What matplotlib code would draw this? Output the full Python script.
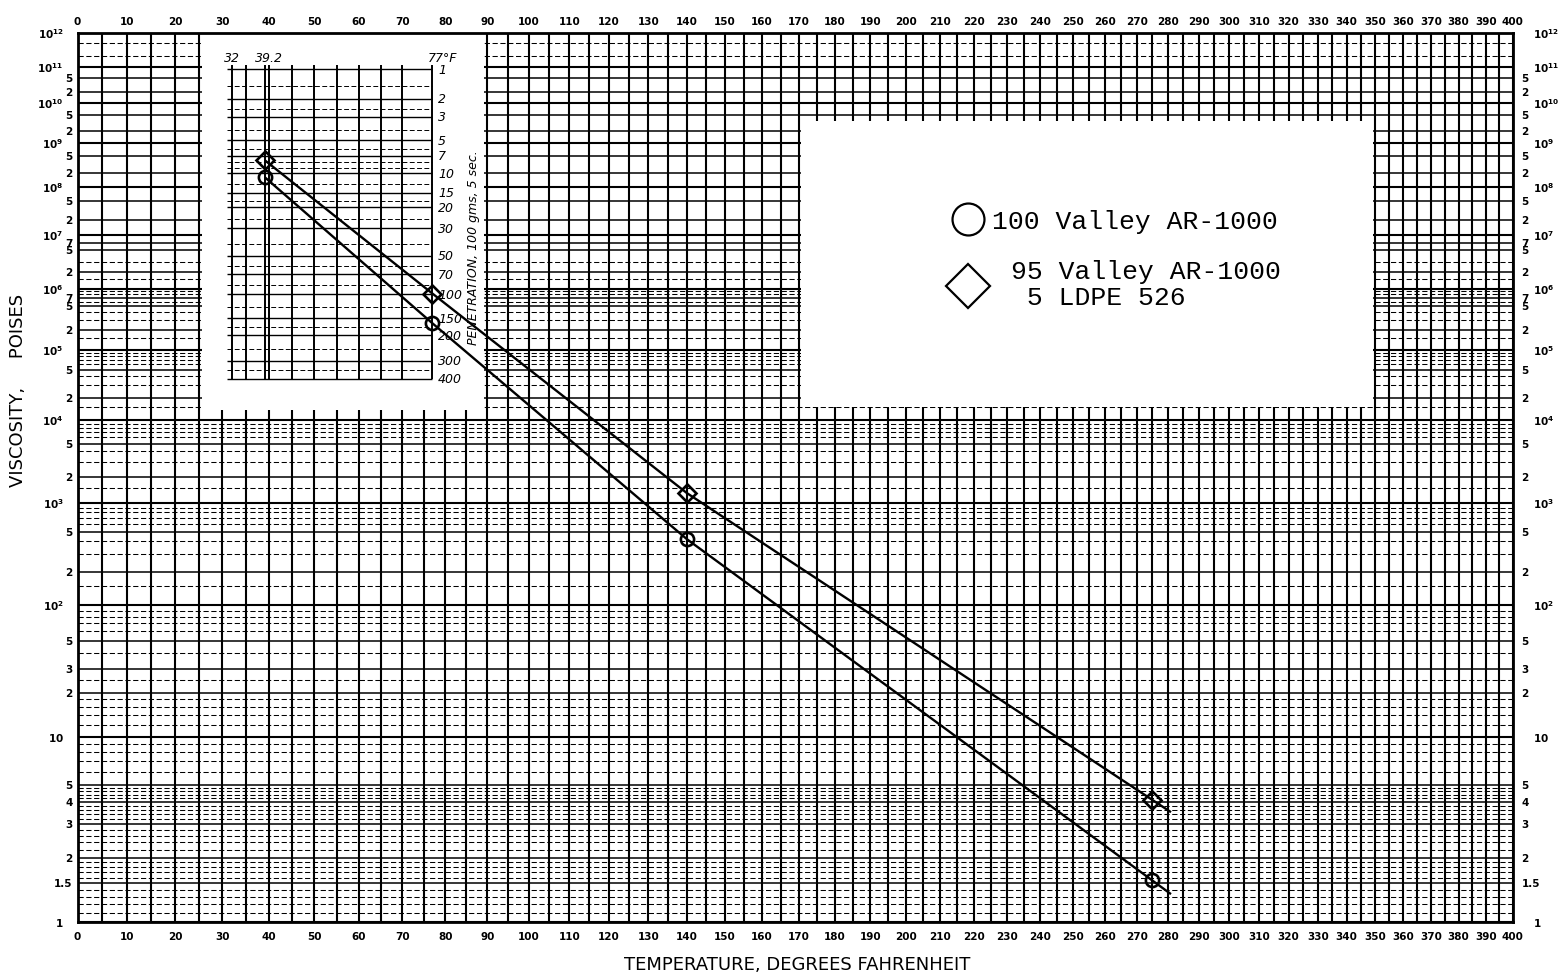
import numpy as np
import matplotlib
matplotlib.use("Agg")
import matplotlib.pyplot as plt
from matplotlib.patches import Rectangle
from matplotlib.transforms import blended_transform_factory
from matplotlib.ticker import NullLocator

# ---------------- measured data ----------------
test_temps_f = [39.2, 77, 140, 275]
visc_neat = [1.6e8, 2.6e5, 420, 1.55]      # 100 Valley AR-1000
visc_blend = [3.9e8, 8.2e5, 1300, 4.1]     # 95 Valley AR-1000 + 5 LDPE 526
line_end_temp = 281

legend_neat = "100 Valley AR-1000"
legend_blend = "95 Valley AR-1000\n 5 LDPE 526"

# ---------------- chart furniture ----------------
temp_labels = list(range(0, 401, 10))
temp_grid = list(range(0, 401, 5))

visc_side_labels = {
    5e10: "5", 2e10: "2", 5e9: "5", 2e9: "2", 5e8: "5", 2e8: "2",
    5e7: "5", 2e7: "2", 7e6: "7", 5e6: "5", 2e6: "2", 7e5: "7", 5e5: "5",
    2e5: "2", 5e4: "5", 2e4: "2", 5e3: "5", 2e3: "2", 5e2: "5", 2e2: "2",
    5e1: "5", 3e1: "3", 2e1: "2", 5: "5", 4: "4", 3: "3", 2: "2", 1.5: "1.5",
}
decade_exps = list(range(0, 13))
minor_multipliers = {
    0: [1.1, 1.2, 1.3, 1.4, 1.6, 1.7, 1.8, 1.9, 2.2, 2.4, 2.6, 2.8, 3.2, 3.4,
        3.6, 3.8, 4.2, 4.4, 4.6, 4.8, 6, 7, 8, 9],
    1: [1.2, 1.4, 1.6, 1.8, 2.5, 4, 6, 7, 8, 9],
    2: [1.5, 3, 4, 6, 7, 8, 9],
    3: [1.5, 3, 4, 6, 7, 8, 9],
    4: [1.5, 3, 4, 6, 7, 8, 9],
    5: [1.5, 3, 4, 6, 8, 9],
    6: [1.5, 3],
    11: [2, 5],
}

pen_labels = [1, 2, 3, 5, 7, 10, 15, 20, 30, 50, 70, 100, 150, 200, 300, 400]
pen_minor = [1.5, 2.5, 4, 6, 8, 9, 12.5, 17.5, 25, 40, 60, 85, 125, 175, 250, 350]
inset_temps = [32, 35, 39.2, 40, 45, 50, 55, 60, 65, 70, 77]


# ---------------- chart scales ----------------
def temp_fwd(t):
    t = np.asarray(t, dtype=float)
    return np.log10(np.clip(t + 459.7, 1e-3, None))


def temp_inv(u):
    return 10.0 ** np.asarray(u, dtype=float) - 459.7


def visc_fwd(v):
    v = np.clip(np.asarray(v, dtype=float), 0.02, None)
    return np.log10(np.log10(v) + 2.0)


def visc_inv(w):
    return 10.0 ** (10.0 ** np.asarray(w, dtype=float) - 2.0)


def pen_to_poise(p):
    lp = np.log10(np.asarray(p, dtype=float))
    return 10.0 ** (10.937 - 2.748 * lp + 0.115 * lp ** 2)


W, H = 1560, 978
fig = plt.figure(figsize=(W / 100, H / 100), dpi=100)
ax_l, ax_r, ax_t, ax_b = 77.5, 1512.5, 34, 923
ax_w, ax_h = ax_r - ax_l, ax_b - ax_t
ax = fig.add_axes([ax_l / W, (H - ax_b) / H, ax_w / W, ax_h / H])
ax.set_xscale("function", functions=(temp_fwd, temp_inv))
ax.set_yscale("function", functions=(visc_fwd, visc_inv))
ax.set_xlim(0, 400)
ax.set_ylim(1, 1e12)
ax.set_xticks([])
ax.set_yticks([])
ax.xaxis.set_minor_locator(NullLocator())
ax.yaxis.set_minor_locator(NullLocator())
for sp in ax.spines.values():
    sp.set_linewidth(2.0)
    sp.set_zorder(8)

# ---------------- main grid ----------------
ax.vlines(temp_grid, 1, 1e12, color="black", lw=1.5, zorder=1)
decades = [10.0 ** n for n in decade_exps]
ax.hlines(decades, 0, 400, color="black", lw=1.5, zorder=1)
ax.hlines(list(visc_side_labels.keys()), 0, 400, color="black", lw=1.1, zorder=1)
minor_vals = [m * 10.0 ** n for n, ms in minor_multipliers.items() for m in ms]
ax.hlines(minor_vals, 0, 400, color="black", lw=0.75,
          linestyles=[(0, (5, 2.5))], zorder=1)

# blank panels pasted over the grid
ax.add_patch(Rectangle((25.7, 1.35e4), 89.3 - 25.7, 1e12 - 1.35e4,
                       facecolor="white", edgecolor="none", zorder=2))
ax.add_patch(Rectangle((170.6, 1.5e4), 349.4 - 170.6, 3.6e9 - 1.5e4,
                       facecolor="white", edgecolor="none", zorder=2))

# ---------------- penetration inset ----------------
pen_top, pen_bot = pen_to_poise(0.9), pen_to_poise(400)
ax.vlines(inset_temps, pen_bot, pen_top, color="black", lw=1.4, zorder=3)
ax.hlines(pen_to_poise(pen_labels), 31, 77, color="black", lw=1.0, zorder=3)
ax.hlines(pen_to_poise(pen_minor), 31, 77, color="black", lw=0.7,
          linestyles=[(0, (5, 2.5))], zorder=3)
hand = dict(fontsize=9, style="italic", color="black", zorder=4)
for p in pen_labels:
    ax.text(78.3, pen_to_poise(p), str(p), ha="left", va="center", **hand)
ax.text(32, pen_to_poise(0.75), "32", ha="center", va="center", **hand)
ax.text(40, pen_to_poise(0.75), "39.2", ha="center", va="center", **hand)
ax.text(75.8, pen_to_poise(0.75), "77°F", ha="left", va="center", **hand)
ax.text(86.6, pen_to_poise(42), "PENETRATION, 100 gms, 5 sec.", rotation=90,
        ha="center", va="center", **hand)

# ---------------- data ----------------
def draw_series(temps, visc, marker, ms):
    u = temp_fwd(temps)
    w = visc_fwd(visc)
    slope = (w[-1] - w[-2]) / (u[-1] - u[-2])
    w_end = w[-1] + slope * (temp_fwd(line_end_temp) - u[-1])
    lt = list(temps) + [line_end_temp]
    lv = list(visc) + [float(visc_inv(w_end))]
    ax.plot(lt, lv, color="black", lw=1.7, zorder=5, solid_capstyle="butt")
    ax.plot(temps, visc, ls="none", marker=marker, ms=ms, mfc="none",
            mec="black", mew=1.9, zorder=6)


draw_series(test_temps_f, visc_neat, "o", 9.5)
draw_series(test_temps_f, visc_blend, "D", 9.5)

# ---------------- legend ----------------
def axfrac(px, py):
    return (px - ax_l) / ax_w, (ax_b - py) / ax_h


lx, ly = axfrac(968, 220)
ax.plot([lx], [ly], transform=ax.transAxes, marker="o", ms=23, mfc="white",
        mec="black", mew=1.6, zorder=7, clip_on=False)
lx, ly = axfrac(968, 287)
ax.plot([lx], [ly], transform=ax.transAxes, marker="D", ms=22, mfc="white",
        mec="black", mew=1.6, zorder=7, clip_on=False)
tx, ty = axfrac(992, 222)
ax.text(tx, ty, legend_neat, transform=ax.transAxes, family="Liberation Mono",
        fontsize=19, ha="left", va="center", zorder=7)
tx, ty = axfrac(1011, 285)
ax.text(tx, ty, legend_blend, transform=ax.transAxes, family="Liberation Mono",
        fontsize=19, ha="left", va="center", linespacing=1.1, zorder=7)

# ---------------- tick labels ----------------
tick_font = dict(fontsize=7.5, fontweight="bold", color="black")
xb = blended_transform_factory(ax.transData, ax.transAxes)
for t in temp_labels:
    ax.text(t, 1 + 12 / ax_h, str(t), transform=xb, ha="center", va="center",
            clip_on=False, **tick_font)
    ax.text(t, -14 / ax_h, str(t), transform=xb, ha="center", va="center",
            clip_on=False, **tick_font)

yb = blended_transform_factory(ax.transAxes, ax.transData)
for n in decade_exps:
    v = 10.0 ** n
    if n == 0:
        s = r"$\mathbf{1}$"
    elif n == 1:
        s = r"$\mathbf{10}$"
    else:
        s = r"$\mathbf{10^{%d}}$" % n
    ax.text(-14 / ax_w, v, s, transform=yb, ha="right", va="center",
            fontsize=7.5, clip_on=False)
    ax.text(1 + 20 / ax_w, v, s, transform=yb, ha="left", va="center",
            fontsize=7.5, clip_on=False)
for v, s in visc_side_labels.items():
    ax.text(-5 / ax_w, v, s, transform=yb, ha="right", va="center",
            clip_on=False, **tick_font)
    ax.text(1 + 9 / ax_w, v, s, transform=yb, ha="left", va="center",
            clip_on=False, **tick_font)

# ---------------- axis titles ----------------
fig.text(18 / W, 1 - 390 / H, "VISCOSITY,     POISES", rotation=90,
         ha="center", va="center", fontsize=13)
fig.text(797 / W, 1 - 965 / H, "TEMPERATURE, DEGREES FAHRENHEIT",
         ha="center", va="center", fontsize=13)

fig.savefig("out.png", dpi=100, facecolor="white")
